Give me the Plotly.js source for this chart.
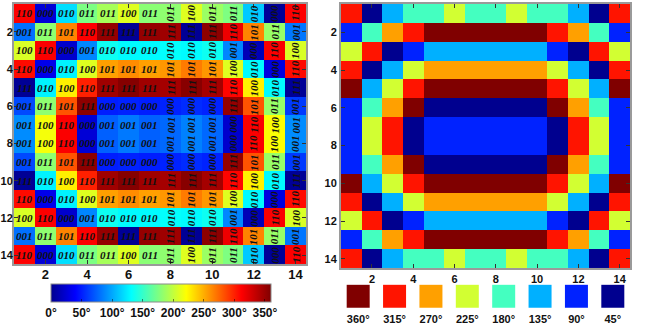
<!DOCTYPE html>
<html>
<head>
<meta charset="utf-8">
<script src="https://cdn.plot.ly/plotly-3.0.1.min.js"></script>
<style>
  html, body { margin: 0; padding: 0; background: #fff; }
  #chart { width: 648px; height: 325px; }
</style>
</head>
<body>
<div id="chart"></div>
<script>
// Grid coordinates (columns / rows of the 14 x 14 array)
const cols = [1, 2, 3, 4, 5, 6, 7, 8, 9, 10, 11, 12, 13, 14];
const rows = [1, 2, 3, 4, 5, 6, 7, 8, 9, 10, 11, 12, 13, 14];
const axisTicks = [2, 4, 6, 8, 10, 12, 14];

// Continuous phase of each element, degrees
const phaseDeg = [
  [312,  25, 120, 175, 190, 210, 180, 182, 210, 186, 176, 112,   3, 312],
  [ 80, 182, 265, 312, 352,   2, 352, 348,   2, 355, 318, 265, 185,  82],
  [208, 313,  22,  88, 136, 130, 130, 132, 130, 136,  88,  14, 313, 208],
  [308,  32, 127, 210, 255, 262, 255, 258, 268, 258, 210, 130,  28, 308],
  [  2, 127, 227, 300, 348, 358, 348, 346, 357, 346, 310, 226, 130,   2],
  [ 66, 182, 282, 355,  50,  52,  50,  52,  55,  52, 352, 282, 185,  60],
  [ 90, 218, 313,  25,  74,  83,  74,  77,  86,  77,  22, 313, 220,  90],
  [ 90, 218, 313,  25,  74,  83,  74,  77,  86,  77,  22, 313, 220,  90],
  [ 66, 182, 282, 355,  50,  52,  50,  52,  55,  52, 352, 282, 185,  60],
  [  2, 127, 227, 300, 348, 358, 348, 346, 357, 346, 310, 226, 130,   2],
  [308,  32, 127, 210, 255, 262, 255, 258, 268, 258, 210, 130,  28, 308],
  [208, 313,  22,  88, 136, 130, 130, 132, 130, 136,  88,  14, 313, 208],
  [ 80, 182, 265, 312, 352,   2, 352, 348,   2, 355, 318, 265, 185,  82],
  [312,  25, 120, 175, 190, 210, 180, 182, 210, 186, 176, 112,   3, 312]
];

// 3-bit code of each element
const bitCodes = [
  ['110','000','010','011','011','100','011','011','100','011','011','010','000','110'],
  ['001','011','101','110','111','111','111','111','111','111','110','101','011','001'],
  ['100','110','000','001','010','010','010','010','010','010','001','000','110','100'],
  ['110','000','010','100','101','101','101','101','101','101','100','010','000','110'],
  ['111','010','100','110','111','111','111','111','111','111','110','100','010','111'],
  ['001','011','101','111','000','000','000','000','000','000','111','101','011','001'],
  ['001','100','110','000','001','001','001','001','001','001','000','110','100','001'],
  ['001','100','110','000','001','001','001','001','001','001','000','110','100','001'],
  ['001','011','101','111','000','000','000','000','000','000','111','101','011','001'],
  ['111','010','100','110','111','111','111','111','111','111','110','100','010','111'],
  ['110','000','010','100','101','101','101','101','101','101','100','010','000','110'],
  ['100','110','000','001','010','010','010','010','010','010','001','000','110','100'],
  ['001','011','101','110','111','111','111','111','111','111','110','101','011','001'],
  ['110','000','010','011','011','100','011','011','100','011','011','010','000','110']
];

// Quantised phase level of each element, degrees
const levelDeg = [
  [315,  45, 135, 180, 180, 225, 180, 180, 225, 180, 180, 135,  45, 315],
  [ 90, 180, 270, 315, 360, 360, 360, 360, 360, 360, 315, 270, 180,  90],
  [225, 315,  45,  90, 135, 135, 135, 135, 135, 135,  90,  45, 315, 225],
  [315,  45, 135, 225, 270, 270, 270, 270, 270, 270, 225, 135,  45, 315],
  [360, 135, 225, 315, 360, 360, 360, 360, 360, 360, 315, 225, 135, 360],
  [ 90, 180, 270, 360,  45,  45,  45,  45,  45,  45, 360, 270, 180,  90],
  [ 90, 225, 315,  45,  90,  90,  90,  90,  90,  90,  45, 315, 225,  90],
  [ 90, 225, 315,  45,  90,  90,  90,  90,  90,  90,  45, 315, 225,  90],
  [ 90, 180, 270, 360,  45,  45,  45,  45,  45,  45, 360, 270, 180,  90],
  [360, 135, 225, 315, 360, 360, 360, 360, 360, 360, 315, 225, 135, 360],
  [315,  45, 135, 225, 270, 270, 270, 270, 270, 270, 225, 135,  45, 315],
  [225, 315,  45,  90, 135, 135, 135, 135, 135, 135,  90,  45, 315, 225],
  [ 90, 180, 270, 315, 360, 360, 360, 360, 360, 360, 315, 270, 180,  90],
  [315,  45, 135, 180, 180, 225, 180, 180, 225, 180, 180, 135,  45, 315]
];

// Eight phase levels, ascending, and their colours
const levels = [45, 90, 135, 180, 225, 270, 315, 360];
const levelColors = ['#00008f', '#0022ff', '#00b0ff', '#44ffc0',
                     '#d2ff32', '#ffa000', '#ff1400', '#800000'];

// Key below the right-hand map
const keyDeg = [360, 315, 270, 225, 180, 135, 90, 45];
const keyLabels = ['360°', '315°', '270°', '225°', '180°', '135°', '90°', '45°'];

// Colour bar ticks of the left-hand map
const barTicks = [0, 50, 100, 150, 200, 250, 300, 350];
const barLabels = ['0°', '50°', '100°', '150°', '200°', '250°', '300°', '350°'];

// ---- layout helpers ----
const W = 648, H = 325;
const px = v => v / W;
const py = v => 1 - v / H;

const jet = [
  [0.000, 'rgb(0,0,143)'],
  [0.110, 'rgb(0,0,255)'],
  [0.365, 'rgb(0,255,255)'],
  [0.615, 'rgb(255,255,0)'],
  [0.865, 'rgb(255,0,0)'],
  [1.000, 'rgb(128,0,0)']
];

// stepped scale: one flat band per level
const stepScale = [];
levels.forEach((d, k) => {
  stepScale.push([k / levels.length, levelColors[k]]);
  stepScale.push([(k + 1) / levels.length, levelColors[k]]);
});
const levelColor = d => levelColors[levels.indexOf(d)];

const sans = 'Liberation Sans, Arial, sans-serif';
const tickFont = { family: sans, size: 13, weight: 'bold', color: '#111' };
const tickFontSmall = { family: sans, size: 11, weight: 'bold', color: '#111' };

function gridAxis(domain, range, font, standoff) {
  return {
    domain: domain, range: range, tickmode: 'array', tickvals: axisTicks,
    ticks: 'inside', ticklen: 4, tickwidth: 1, tickcolor: '#333',
    showline: true, linecolor: '#9a9a9a', linewidth: 2, mirror: 'ticks',
    showgrid: false, zeroline: false, tickfont: font, fixedrange: true,
    ticklabelstandoff: standoff
  };
}

const phaseMap = {
  type: 'heatmap', x: cols, y: rows, z: phaseDeg,
  xaxis: 'x', yaxis: 'y',
  zmin: 0, zmax: 360, colorscale: jet,
  colorbar: {
    orientation: 'h', x: px(161), xanchor: 'center', y: py(286), yanchor: 'top',
    len: 220, lenmode: 'pixels', thickness: 18, thicknessmode: 'pixels',
    xpad: 0, ypad: 0, outlinecolor: '#8a8a8a', outlinewidth: 1,
    tickmode: 'array', tickvals: barTicks, ticktext: barLabels,
    ticks: 'inside', ticklen: 3, tickcolor: 'rgba(0,0,0,0.5)',
    tickfont: { family: sans, size: 12, weight: 'bold', color: '#111' }
  },
  hoverinfo: 'skip'
};

const levelMap = {
  type: 'heatmap', x: cols, y: rows, z: levelDeg,
  xaxis: 'x2', yaxis: 'y2',
  zmin: 22.5, zmax: 382.5, colorscale: stepScale, showscale: false,
  hoverinfo: 'skip'
};

const key = {
  type: 'scatter', mode: 'markers',
  x: keyDeg.map((d, i) => i), y: keyDeg.map(() => 0),
  xaxis: 'x3', yaxis: 'y3',
  marker: { symbol: 'square', size: 23, color: keyDeg.map(levelColor), line: { width: 0 } },
  hoverinfo: 'skip', showlegend: false
};

// bit-code labels; the right half of the array is written vertically
const annotations = [];
rows.forEach((r, i) => {
  cols.forEach((c, j) => {
    annotations.push({
      x: c, y: r, xref: 'x', yref: 'y',
      text: bitCodes[i][j], showarrow: false,
      textangle: c >= 8 ? -90 : 0,
      font: { family: 'Liberation Serif, Times New Roman, serif', size: 11,
              style: 'italic', weight: 'bold', color: '#111' }
    });
  });
});

const layout = {
  width: W, height: H,
  margin: { l: 0, r: 0, t: 0, b: 0 },
  paper_bgcolor: '#fff', plot_bgcolor: '#fff',
  showlegend: false,
  xaxis: gridAxis([px(14), px(306)], [0.5, 14.5], tickFont, -3),
  yaxis: gridAxis([py(266), py(4)], [14.5, 0.5], { family: sans, size: 11, weight: 'bold', color: '#111' }, -3),
  xaxis2: gridAxis([px(341), px(630)], [0.5, 14.5], tickFontSmall, -1),
  yaxis2: gridAxis([py(270), py(4)], [14.5, 0.5], tickFontSmall, 0),
  xaxis3: {
    domain: [px(340), px(631)], range: [-0.5, 7.5], anchor: 'y3',
    tickmode: 'array', tickvals: keyDeg.map((d, i) => i), ticktext: keyLabels,
    showline: false, ticks: '', showgrid: false, zeroline: false,
    tickfont: tickFontSmall, fixedrange: true, ticklabelstandoff: 3
  },
  yaxis3: {
    domain: [py(310), py(286)], range: [-1, 1], anchor: 'x3',
    visible: false, fixedrange: true
  },
  annotations: annotations
};
layout.yaxis.anchor = 'x';
layout.xaxis.anchor = 'y';
layout.xaxis2.anchor = 'y2';
layout.yaxis2.anchor = 'x2';

Plotly.newPlot('chart', [phaseMap, levelMap, key], layout, { displayModeBar: false, staticPlot: true });
</script>
</body>
</html>
